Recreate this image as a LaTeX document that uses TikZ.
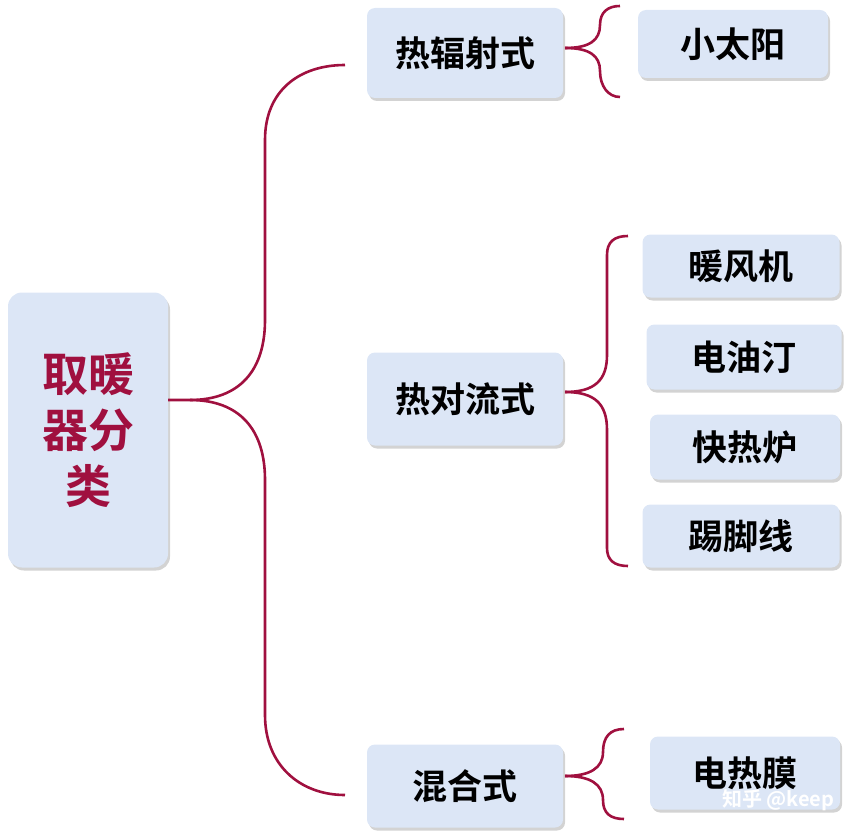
\documentclass[tikz,border=0pt]{standalone}
\usepackage{fontspec}
\newfontfamily\cjk{Noto Sans CJK SC Bold}
\usetikzlibrary{shadows}
\definecolor{boxfill}{HTML}{DCE6F6}
\definecolor{brc}{HTML}{A0103F}
\tikzset{
 box/.style={rounded corners=8pt,fill=boxfill,drop shadow={shadow xshift=2pt,shadow yshift=-3pt,opacity=0.35},font=\cjk\fontsize{35}{38}\selectfont,text=black},
 brace/.style={draw=brc,line width=2.6pt}
}
\begin{document}
\begin{tikzpicture}[x=1pt,y=-1pt]
\useasboundingbox (0,0) rectangle (856,837);
% root
\node[box,minimum width=160pt,minimum height=275pt,text=brc,font=\cjk\fontsize{46}{56}\selectfont,align=center,rounded corners=14pt] (root) at (88,430) {取暖\\器分\\类};
% level 2
\node[box,minimum width=196pt,minimum height=90pt] (a) at (465,53) {热辐射式};
\node[box,minimum width=196pt,minimum height=93pt] (b) at (465,399) {热对流式};
\node[box,minimum width=196pt,minimum height=83pt] (c) at (465,786) {混合式};
% leaves
\node[box,minimum width=190pt,minimum height=68pt] (a1) at (733,44) {小太阳};
\node[box,minimum width=197pt,minimum height=63pt] (b1) at (741,266) {暖风机};
\node[box,minimum width=195pt,minimum height=65pt] (b2) at (744,357) {电油汀};
\node[box,minimum width=190pt,minimum height=65pt] (b3) at (745,447) {快热炉};
\node[box,minimum width=197pt,minimum height=63pt] (b4) at (741,536) {踢脚线};
\node[box,minimum width=190pt,minimum height=73pt] (c1) at (745,773) {电热膜};
% main brace
\draw[brace] (root.east |- 0,400) -- (190,400) .. controls (240,400) and (265,370) .. (265,320) -- (265,140) .. controls (265,90) and (300,65) .. (345,65);
\draw[brace] (190,400) .. controls (240,400) and (265,430) .. (265,480) -- (265,715) .. controls (265,765) and (300,795) .. (345,795);
% small braces
\draw[brace] (565,48) .. controls (590,48) and (600,40) .. (600,25) .. controls (600,12) and (608,6) .. (620,6);
\draw[brace] (565,48) .. controls (590,48) and (600,56) .. (600,71) .. controls (600,86) and (608,97) .. (620,97);
\draw[brace] (565,392) .. controls (595,392) and (607,380) .. (607,355) -- (607,255) .. controls (607,242) and (614,236) .. (628,236);
\draw[brace] (565,392) .. controls (595,392) and (607,404) .. (607,430) -- (607,548) .. controls (607,560) and (614,566) .. (628,566);
\draw[brace] (565,776) .. controls (590,776) and (603,768) .. (603,752) .. controls (603,737) and (610,729) .. (624,729);
\draw[brace] (565,776) .. controls (590,776) and (603,784) .. (603,800) .. controls (603,813) and (610,819) .. (624,819);
% watermark
\node[text=white,font=\cjk\fontsize{20}{22}\selectfont,anchor=east] (wm) at (838,800) {知乎 @keep};
\end{tikzpicture}
\end{document}
